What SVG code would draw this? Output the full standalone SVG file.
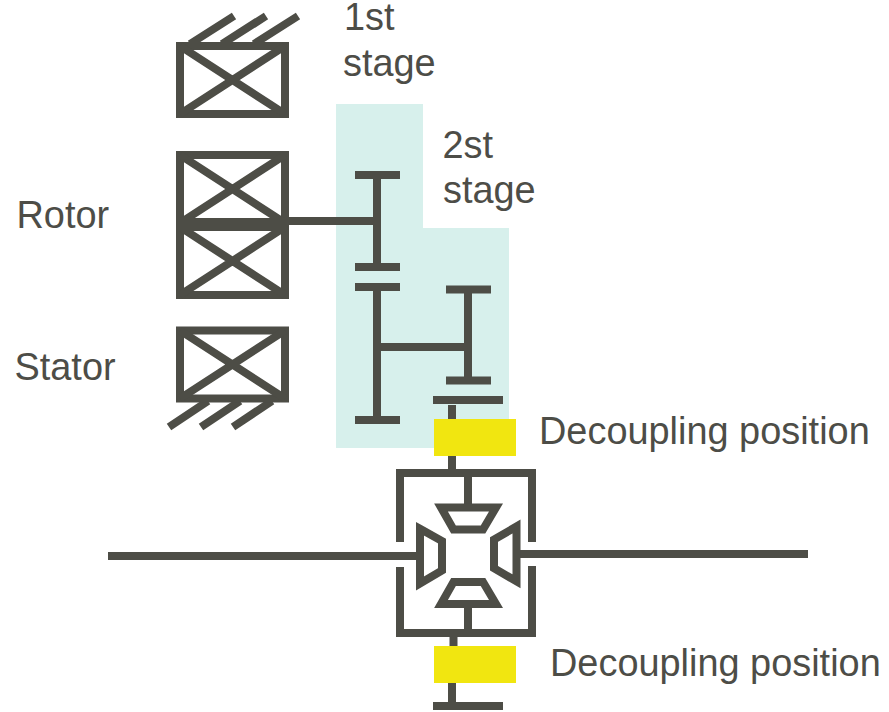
<svg xmlns="http://www.w3.org/2000/svg" width="889" height="712" viewBox="0 0 889 712">
<style>
.l{fill:none;stroke:#4d4d46;stroke-width:8;stroke-linejoin:miter;stroke-miterlimit:10}
.t{font-family:"Liberation Sans",Arial,sans-serif;font-size:37.9px;fill:#4d4d47}
.y{fill:#f1e610}
.b{fill:#d7f0ec}
</style>
<defs>
<g id="box"><rect x="180" y="0" width="105" height="68" class="l"/><path d="M180 0L285 68M285 0L180 68" class="l"/></g>
</defs>
<rect width="889" height="712" fill="#fff"/>
<g id="stage-bg"><path class="b" d="M336 104H423V228H509V448H336Z"/></g>
<g id="connectors">
<path class="l" d="M190 44L234 16M222 44L266 16M254 44L298 16"/>
<path class="l" d="M208 401L169 427M240 401L201 427M272 401L233 427"/>
<path class="l" d="M289 221H377"/>
<path class="l" d="M355 175H400M377 175V267M355 267H400"/>
<path class="l" d="M355 287H400M377 287V420M355 420H400M377 347H468M446 289.500H491M468 289.500V380.500M446 380.500H491"/>
<path class="l" d="M433 400H503M452 405V470"/>
<path class="l" d="M400 542V473H532V542M400 567V633H532V566"/>
<path class="l" d="M468 477V504M468 604V630M453.500 636V647M452 683V706M433 706H503"/>
<path class="l" d="M108 556H417M520 554H808"/>
</g>
<g id="rotor-stage1"><use href="#box" y="46"/></g>
<g id="rotor-upper"><use href="#box" y="155"/></g>
<g id="rotor-lower"><use href="#box" y="227"/><rect x="176" y="218" width="113" height="13" fill="#4d4d46"/></g>
<g id="stator"><use href="#box" y="330.500"/></g>
<g id="diff-top"><path class="l" d="M441 507.500H496L483 529.500H453.500Z"/></g>
<g id="diff-bottom"><path class="l" d="M453.500 582H483L496 604H441Z"/></g>
<g id="diff-left"><path class="l" d="M420 528.700L442 541V570.500L420 583.500Z"/></g>
<g id="diff-right"><path class="l" d="M516.500 526.500L494 539.500V568.300L516.500 581.300Z"/></g>
<g id="decoupling-1"><rect class="y" x="434" y="419" width="82" height="37"/><text class="t" x="539" y="444">Decoupling position</text></g>
<g id="decoupling-2"><rect class="y" x="434" y="646" width="82" height="37"/><text class="t" x="550" y="676">Decoupling position</text></g>
<g id="labels">
<text class="t" x="344" y="30">1st</text>
<text class="t" x="343" y="76">stage</text>
<text class="t" x="442.500" y="158">2st</text>
<text class="t" x="443" y="203">stage</text>
<text class="t" x="16.500" y="228">Rotor</text>
<text class="t" x="14.500" y="380">Stator</text>
</g>
</svg>
